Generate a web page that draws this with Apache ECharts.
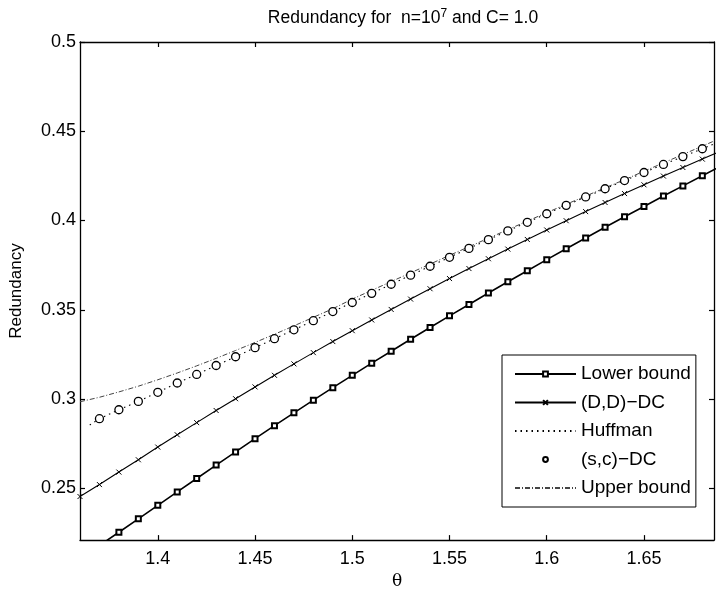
<!DOCTYPE html>
<html>
<head>
<meta charset="utf-8">
<script src="https://cdn.jsdelivr.net/npm/echarts@6/dist/echarts.min.js"></script>
<style>html,body{margin:0;padding:0;background:#fff;}#c{width:716px;height:595px;}</style>
</head>
<body>
<div id="c"></div>
<script>
// theta grid (step 0.01)
const theta = [1.36,1.37,1.38,1.39,1.40,1.41,1.42,1.43,1.44,1.45,1.46,1.47,1.48,1.49,1.50,1.51,1.52,1.53,1.54,1.55,1.56,1.57,1.58,1.59,1.60,1.61,1.62,1.63,1.64,1.65,1.66,1.67,1.68,1.69];
const lowerBound = [0.2105,0.2180,0.2254,0.2329,0.2405,0.2480,0.2555,0.2630,0.2704,0.2778,0.2851,0.2923,0.2994,0.3064,0.3133,0.3201,0.3268,0.3335,0.3401,0.3466,0.3530,0.3594,0.3657,0.3719,0.3781,0.3842,0.3902,0.3962,0.4021,0.4079,0.4137,0.4194,0.4251,0.4307];
const ddDC = [0.2454,0.2521,0.2591,0.2660,0.2731,0.2800,0.2868,0.2936,0.3002,0.3068,0.3133,0.3197,0.3260,0.3322,0.3383,0.3443,0.3502,0.3560,0.3618,0.3675,0.3731,0.3786,0.3840,0.3894,0.3947,0.3999,0.4050,0.4101,0.4151,0.4200,0.4249,0.4297,0.4344,0.4391];
const scTheta = [1.37,1.38,1.39,1.40,1.41,1.42,1.43,1.44,1.45,1.46,1.47,1.48,1.49,1.50,1.51,1.52,1.53,1.54,1.55,1.56,1.57,1.58,1.59,1.60,1.61,1.62,1.63,1.64,1.65,1.66,1.67,1.68,1.69];
const scDC = [0.2890,0.2940,0.2987,0.3038,0.3090,0.3138,0.3188,0.3237,0.3288,0.3338,0.3388,0.3439,0.3490,0.3541,0.3592,0.3643,0.3694,0.3744,0.3794,0.3844,0.3893,0.3942,0.3990,0.4038,0.4085,0.4132,0.4178,0.4224,0.4269,0.4314,0.4358,0.4402,0.4446];
const huffTheta = [1.365,1.37,1.38,1.39,1.40,1.41,1.42,1.43,1.44,1.45,1.46,1.47,1.48,1.49,1.50,1.51,1.52,1.53,1.54,1.55,1.56,1.57,1.58,1.59,1.60,1.61,1.62,1.63,1.64,1.65,1.66,1.67,1.68,1.69];
const huffman = [0.2855,0.2890,0.2940,0.2987,0.3038,0.3090,0.3138,0.3188,0.3237,0.3288,0.3338,0.3388,0.3439,0.3490,0.3541,0.3592,0.3643,0.3694,0.3744,0.3794,0.3844,0.3893,0.3942,0.3990,0.4038,0.4085,0.4132,0.4178,0.4224,0.4269,0.4314,0.4358,0.4402,0.4446];
const upperBound = [0.2985,0.3010,0.3040,0.3072,0.3108,0.3146,0.3186,0.3228,0.3272,0.3317,0.3363,0.3410,0.3458,0.3506,0.3560,0.3609,0.3658,0.3707,0.3756,0.3805,0.3853,0.3901,0.3949,0.3997,0.4044,0.4091,0.4137,0.4183,0.4229,0.4276,0.4323,0.4370,0.4417,0.4464];
const xTicks = [1.4,1.45,1.5,1.55,1.6,1.65];
const yTicks = [0.25,0.3,0.35,0.4,0.45,0.5];
const seriesNames = ['Lower bound','(D,D)\u2212DC','Huffman','(s,c)\u2212DC','Upper bound'];

const zip = (xs, ys) => xs.map((x, i) => [x, ys[i]]);
const FONT = 'Liberation Sans, Arial, Helvetica, sans-serif';
const X_MIN = 1.36, X_MAX = 1.686, Y_MIN = 0.221, Y_MAX = 0.5;

const chart = echarts.init(document.getElementById('c'), null, {renderer: 'canvas'});
const axisCommon = {
  axisLine: {show: true, onZero: false, lineStyle: {color: '#000', width: 1.3}},
  splitLine: {show: false}
};
const tickStyle = {show: true, inside: true, length: 5, customValues: null, lineStyle: {color: '#000', width: 1.2}};
chart.setOption({
  animation: false,
  backgroundColor: '#fff',
  title: {
    text: 'Redundancy for  n=10{sup|7} and C= 1.0',
    left: 398, top: 3, textAlign: 'center',
    textStyle: {fontFamily: FONT, fontSize: 17.5, fontWeight: 'normal', color: '#000',
      rich: {sup: {fontFamily: FONT, fontSize: 12, verticalAlign: 'top', padding: [0,0,9,0], color: '#000'}}}
  },
  grid: {left: 77, right: 2, top: 42, bottom: 53},
  legend: {
    orient: 'vertical', left: 502, top: 355,
    itemWidth: 61, itemHeight: 6, itemGap: 9.5,
    padding: [9.5, 5, 9.5, 12],
    borderColor: '#000', borderWidth: 1, backgroundColor: '#fff',
    textStyle: {fontFamily: FONT, fontSize: 19, color: '#000'},
    data: seriesNames
  },
  xAxis: [
    Object.assign({type: 'value', min: X_MIN, max: X_MAX, position: 'bottom',
      name: '\u03b8', nameLocation: 'middle', nameGap: 31,
      nameTextStyle: {fontFamily: 'DejaVu Serif, serif', fontSize: 17, color: '#000'},
      axisTick: Object.assign({}, tickStyle, {customValues: xTicks}),
      axisLabel: {customValues: xTicks, fontFamily: FONT, fontSize: 18, color: '#000', margin: 10}
    }, axisCommon),
    Object.assign({type: 'value', min: X_MIN, max: X_MAX, position: 'top',
      axisTick: Object.assign({}, tickStyle, {customValues: xTicks}),
      axisLabel: {show: false}
    }, axisCommon)
  ],
  yAxis: [
    Object.assign({type: 'value', min: Y_MIN, max: Y_MAX, position: 'left',
      name: 'Redundancy', nameLocation: 'middle', nameGap: 55, nameRotate: 90,
      nameTextStyle: {fontFamily: FONT, fontSize: 17, color: '#000'},
      axisTick: Object.assign({}, tickStyle, {customValues: yTicks}),
      axisLabel: {customValues: yTicks, fontFamily: FONT, fontSize: 18, color: '#000', margin: 4}
    }, axisCommon),
    Object.assign({type: 'value', min: Y_MIN, max: Y_MAX, position: 'right',
      axisTick: Object.assign({}, tickStyle, {customValues: yTicks}),
      axisLabel: {show: false}
    }, axisCommon)
  ],
  series: [
    {name: seriesNames[0], type: 'line', data: zip(theta, lowerBound), clip: true,
      showAllSymbol: true, symbol: 'emptyRect', symbolSize: 5,
      lineStyle: {color: '#000', width: 1.6}, itemStyle: {color: '#000', borderColor: '#000', borderWidth: 1.2}},
    {name: seriesNames[1], type: 'line', data: zip(theta, ddDC), clip: true,
      showAllSymbol: true, symbol: 'path://M0,0L10,10M10,0L0,10', symbolSize: 5,
      lineStyle: {color: '#000', width: 1.1}, itemStyle: {color: '#000', borderColor: '#000', borderWidth: 1}},
    {name: seriesNames[2], type: 'line', data: zip(huffTheta, huffman), clip: true,
      symbol: 'none', lineStyle: {color: '#000', width: 1.1, type: [1.5, 4]},
      itemStyle: {color: 'rgba(0,0,0,0)'}},
    {name: seriesNames[3], type: 'line', data: zip(scTheta, scDC), clip: true,
      showAllSymbol: true, symbol: 'circle', symbolSize: 8,
      lineStyle: {color: '#000', width: 0, opacity: 0},
      itemStyle: {color: '#fff', borderColor: '#000', borderWidth: 1.3}},
    {name: seriesNames[4], type: 'line', data: zip(theta, upperBound), clip: true,
      symbol: 'none', lineStyle: {color: '#444', width: 1, type: [5, 2, 1, 2]},
      itemStyle: {color: 'rgba(0,0,0,0)'}}
  ]
});
</script>
</body>
</html>
